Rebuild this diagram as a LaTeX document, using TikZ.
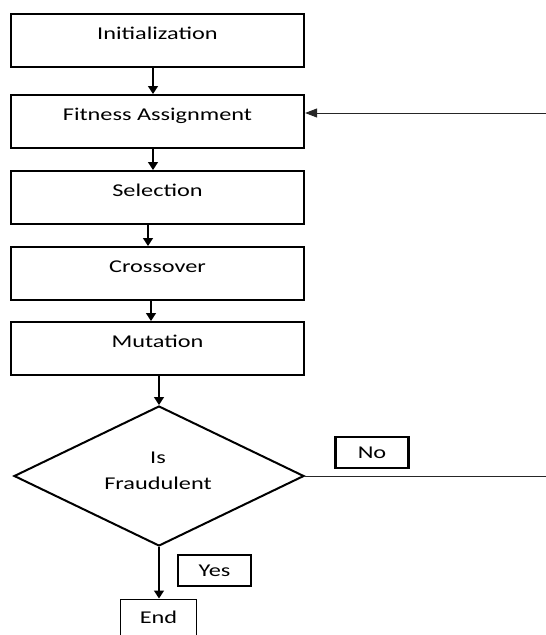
\documentclass[tikz,border=0pt]{standalone}
\usepackage{fontspec}
\setmainfont[FakeStretch=1.35]{Carlito}
\usetikzlibrary{arrows.meta,shapes.geometric}
\begin{document}
\begin{tikzpicture}[x=1pt,y=-1pt,
  procbox/.style={draw=black,line width=2.2pt,inner sep=0pt,minimum width=293pt,
    text height=25pt,text depth=28pt,font=\fontsize{18}{20}\selectfont,anchor=north},
  tagbox/.style={draw=black,line width=2.4pt,inner sep=0pt,minimum width=73pt,minimum height=31pt,
    font=\fontsize{18}{20}\selectfont},
  endbox/.style={draw=black,line width=1.5pt,inner sep=0pt,minimum width=76pt,
    text height=24pt,text depth=35pt,font=\fontsize{18}{20}\selectfont,anchor=north},
  decision/.style={draw=black,line width=2pt,shape=diamond,inner sep=0pt,
    minimum width=290pt,minimum height=140pt},
  lbl/.style={align=center,inner sep=0pt,font=\fontsize{18}{26}\selectfont},
  arr/.style={draw=black,line width=1.3pt,-{Triangle[length=8pt,width=10pt]}},
  thin/.style={draw=black!85,line width=0.9pt}]
\useasboundingbox (0,0) rectangle (546,635);
\clip (0,0) rectangle (546,635);

\node[procbox] (init) at (157.5,13) {Initialization};
\node[procbox] (fit)  at (157.5,94) {Fitness Assignment};
\node[procbox] (sel)  at (157.5,170) {Selection};
\node[procbox] (cro)  at (157.5,246) {Crossover};
\node[procbox] (mut)  at (157.5,321) {Mutation};

\node[decision] (dec) at (159,476) {};
\node[lbl] (declbl) at (158,471) {Is\\Fraudulent};

\node[tagbox] (no)  at (372,452.5) {No};
\node[tagbox] (yes) at (214.5,570.5) {Yes};
\node[endbox] (end) at (158.5,598.5) {End};

\coordinate (loopR) at (546,113);
\coordinate (noR) at (546,476);

\draw[arr] ([xshift=-4.5pt]init.south) -- ([xshift=-4.5pt]fit.north);
\draw[arr] ([xshift=-4.5pt]fit.south) -- ([xshift=-4.5pt]sel.north);
\draw[arr] ([xshift=-9.5pt]sel.south) -- ([xshift=-9.5pt]cro.north);
\draw[arr] ([xshift=-6.5pt]cro.south) -- ([xshift=-6.5pt]mut.north);
\draw[arr] (mut.south -| dec.north) -- (dec.north);
\draw[arr] (dec.south) -- (dec.south |- end.north);
\draw[thin,-{Triangle[length=12pt,width=9pt]}] (loopR) -- (loopR -| fit.east);
\draw[thin] (dec.east) -- (noR);
\end{tikzpicture}
\end{document}
